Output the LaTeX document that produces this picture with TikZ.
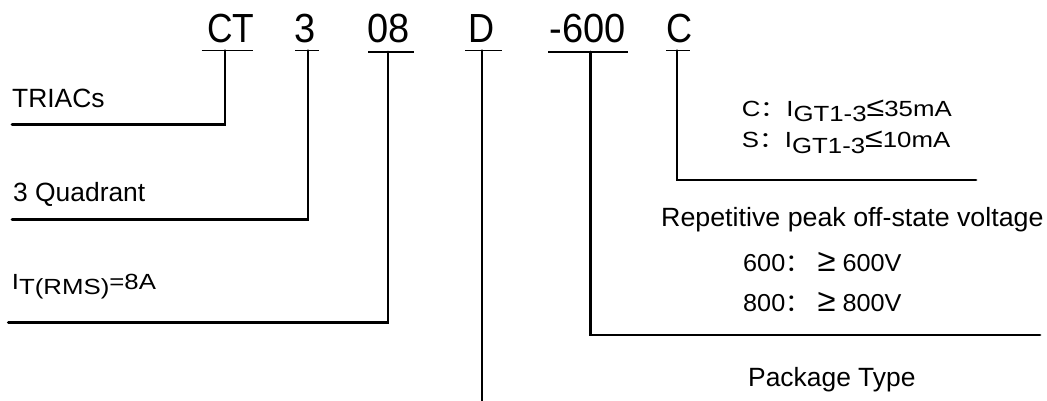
\documentclass[tikz,border=0pt]{standalone}
\usepackage{fontspec}
\usepackage{graphicx}
\setmainfont{Liberation Sans}
\newfontfamily\cjk{Noto Sans CJK SC}
\newcommand{\fcolon}{{\cjk ：}}
\newcommand{\bigge}{\scalebox{1.3}{≥}}
\newcommand{\bigle}{\scalebox{1.25}{≤}}
\tikzset{
  big/.style={anchor=base, inner sep=0pt, font=\fontsize{38}{38}\selectfont},
  lbl/.style={anchor=base west, inner sep=0pt, font=\fontsize{26.4}{26.4}\selectfont},
  sml/.style={anchor=base west, inner sep=0pt, font=\fontsize{21.5}{21.5}\selectfont},
  mid/.style={anchor=base west, inner sep=0pt, font=\fontsize{24.5}{24.5}\selectfont},
  uline/.style={line width=1.8pt},
  conn/.style={line width=2.8pt, line cap=round, line join=miter},
}
\begin{document}
\begin{tikzpicture}[x=1pt,y=-1pt]
\useasboundingbox (0,0) rectangle (1047,401);
% code letters
\node[big] (tCT)  at (230.7,43) {\scalebox{0.93}[1.07]{CT}};
\node[big] (t3)   at (305,43) {\scalebox{1}[1.07]{3}};
\node[big] (t08)  at (388.5,43) {\scalebox{1}[1.07]{08}};
\node[big] (tD)   at (482,43) {\scalebox{0.95}[1.07]{D}};
\node[big] (t600) at (587.5,43) {\scalebox{1}[1.07]{-600}};
\node[big] (tC)   at (679.5,43) {\scalebox{0.95}[1.07]{C}};
% underlines
\coordinate (uCTa) at (201.7,50.6); \coordinate (uCTb) at (253,50.6);
\coordinate (u3a) at (295,50.6); \coordinate (u3b) at (319,50.6);
\coordinate (u08a) at (368,52); \coordinate (u08b) at (413.5,52);
\coordinate (uDa) at (465,50.6); \coordinate (uDb) at (502,50.6);
\coordinate (u600a) at (548,52); \coordinate (u600b) at (628,52);
\coordinate (uCa) at (666,50.6); \coordinate (uCb) at (690,50.6);
\draw[uline] (uCTa) -- (uCTb);
\draw[uline] (u3a) -- (u3b);
\draw[uline] (u08a) -- (u08b);
\draw[uline] (uDa) -- (uDb);
\draw[uline] (u600a) -- (u600b);
\draw[uline] (uCa) -- (uCb);
% labels
\node[lbl] (lTRIAC) at (12,108) {TRIACs};
\node[lbl] (lQuad) at (13,201.7) {3 Quadrant};
\node[sml] (lIT) at (11.7,289) {\scalebox{1.2}[1.02]{I\raisebox{-5.5pt}{T(RMS)}=8A}};
\node[sml] (lCgt) at (741.7,116.7) {\scalebox{1.2}[1.02]{C\fcolon I\raisebox{-5pt}{GT1-3}\bigle35mA}};
\node[sml] (lSgt) at (741.7,148) {\scalebox{1.2}[1.02]{S\fcolon I\raisebox{-5pt}{GT1-3}\bigle10mA}};
\node[lbl] (lRep) at (661,226) {\scalebox{1.015}[1]{Repetitive peak off-state voltage}};
\node[mid] (l600) at (743,271.7) {\scalebox{1.03}[1]{600\fcolon\ \bigge\ 600V}};
\node[mid] (l800) at (743,311.7) {\scalebox{1.03}[1]{800\fcolon\ \bigge\ 800V}};
\node[lbl] (lPkg) at (748,386) {Package Type};
% connectors
\coordinate (eCT) at (12,124.3);
\coordinate (e3) at (12,219.3);
\coordinate (e08) at (8.3,322.7);
\coordinate (eD) at (482,401);
\coordinate (e600) at (1040,335);
\coordinate (eC) at (976,180);
\draw[conn] (225,50.6) |- (eCT);
\draw[conn] (308,50.6) |- (e3);
\draw[conn] (388,52) |- (e08);
\draw[conn] (482,50.6) -- (eD);
\draw[conn] (590.7,52) |- (e600);
\draw[conn] (677,50.6) |- (eC);
\end{tikzpicture}
\end{document}
